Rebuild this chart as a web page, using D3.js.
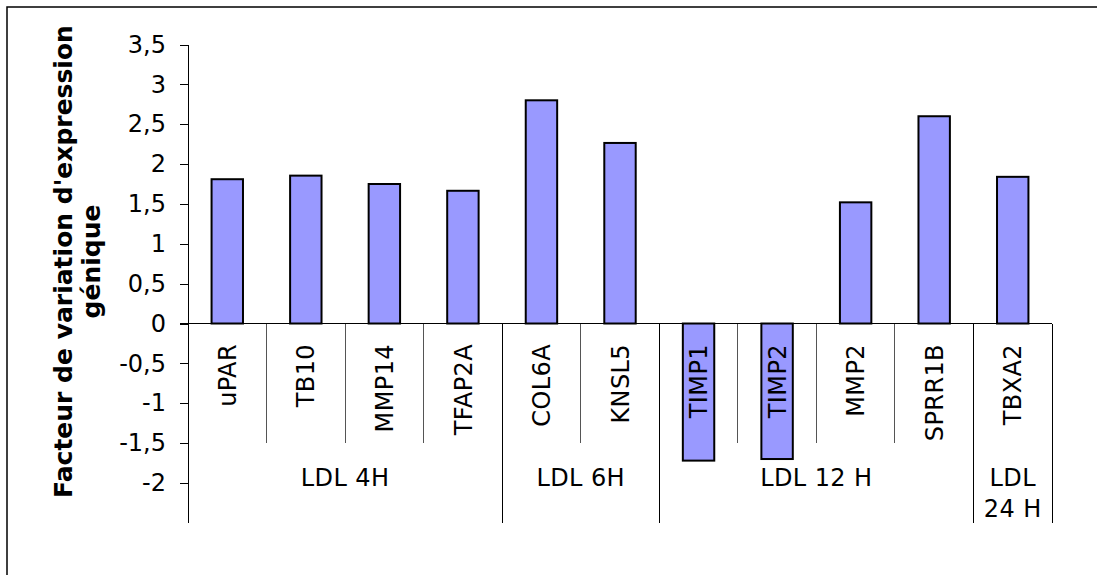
<!DOCTYPE html>
<html>
<head>
<meta charset="utf-8">
<script src="https://cdn.jsdelivr.net/npm/d3@7"></script>
<style>
  body { margin: 0; background: #fff; }
  text { font-family: "DejaVu Sans", Verdana, sans-serif; fill: #000; }
</style>
</head>
<body>
<svg id="chart" width="1097" height="575"></svg>
<script>
// genes and their fold change
var genes = ["uPAR", "TB10", "MMP14", "TFAP2A", "COL6A", "KNSL5", "TIMP1", "TIMP2", "MMP2", "SPRR1B", "TBXA2"];
var values = [1.81, 1.855, 1.75, 1.665, 2.8, 2.265, -1.72, -1.7, 1.52, 2.6, 1.84];
// time point groups (how many genes in each)
var groupNames = ["LDL 4H", "LDL 6H", "LDL 12 H", "LDL 24 H"];
var groupSizes = [4, 2, 4, 1];
var yTicks = [-2, -1.5, -1, -0.5, 0, 0.5, 1, 1.5, 2, 2.5, 3, 3.5];

var svg = d3.select("#chart");

// outer frame, right and bottom edges fall outside the picture
svg.append("rect")
  .attr("x", 7).attr("y", 7)
  .attr("width", 1300).attr("height", 800)
  .attr("fill", "none")
  .attr("stroke", "#000")
  .attr("stroke-width", 1.5);

var x = d3.scaleBand().domain(genes).range([188, 1052]);
var y = d3.scaleLinear().domain([-2.5, 3.5]).range([522.8, 44.5]);
var step = x.step();
var barW = step * 0.4;

// y axis
var yAxis = d3.axisLeft(y)
  .tickValues(yTicks)
  .tickSize(8)
  .tickSizeOuter(0)
  .tickPadding(14)
  .tickFormat(function (d) { return String(d).replace(".", ","); });

var gy = svg.append("g")
  .attr("transform", "translate(" + x.range()[0] + ",0)")
  .call(yAxis);
gy.selectAll("path, line").attr("stroke", "#000").attr("shape-rendering", "crispEdges");
gy.selectAll("text")
  .style("font-size", "24px")
  .style("font-family", "'DejaVu Sans', Verdana, sans-serif");

// bars
svg.selectAll("rect.bar")
  .data(genes)
  .enter().append("rect")
  .attr("class", "bar")
  .attr("x", function (d) { return x(d) + step / 2 - barW / 2; })
  .attr("y", function (d, i) { return y(Math.max(0, values[i])); })
  .attr("width", barW)
  .attr("height", function (d, i) { return Math.abs(y(values[i]) - y(0)); })
  .attr("fill", "#9999ff")
  .attr("stroke", "#000")
  .attr("stroke-width", 2);

// category axis line at zero
svg.append("line")
  .attr("x1", x.range()[0] - 8).attr("x2", x.range()[1])
  .attr("y1", y(0)).attr("y2", y(0))
  .attr("stroke", "#000")
  .attr("shape-rendering", "crispEdges");

// dividers: short between genes, long between groups
var groupEnds = [0];
groupSizes.forEach(function (n, i) { groupEnds.push(groupEnds[i] + n); });

d3.range(genes.length + 1).forEach(function (i) {
  var isGroup = groupEnds.indexOf(i) >= 0;
  svg.append("line")
    .attr("x1", x.range()[0] + i * step).attr("x2", x.range()[0] + i * step)
    .attr("y1", y(0))
    .attr("y2", isGroup ? 523 : 443)
    .attr("stroke", isGroup ? "#000" : "#555")
    .attr("shape-rendering", "crispEdges");
});

// gene labels, rotated
svg.selectAll("text.gene")
  .data(genes)
  .enter().append("text")
  .attr("class", "gene")
  .attr("transform", function (d) {
    return "translate(" + (x(d) + step / 2) + ",344) rotate(-90)";
  })
  .attr("text-anchor", "end")
  .attr("dy", "0.36em")
  .style("font-size", "24px")
  .style("letter-spacing", "0.4px")
  .text(function (d) { return d; });

// group labels, wrapped when too wide
groupNames.forEach(function (name, i) {
  var x0 = x.range()[0] + groupEnds[i] * step;
  var x1 = x.range()[0] + groupEnds[i + 1] * step;
  var t = svg.append("text")
    .attr("text-anchor", "middle")
    .style("font-size", "24px")
    .style("letter-spacing", "0.4px");
  var words = name.split(" ");
  var line = [];
  var lineNo = 0;
  var ts = t.append("tspan").attr("x", (x0 + x1) / 2).attr("y", 485.5);
  words.forEach(function (w) {
    line.push(w);
    ts.text(line.join(" "));
    if (ts.node().getComputedTextLength() > x1 - x0 - 6 && line.length > 1) {
      line.pop();
      ts.text(line.join(" "));
      line = [w];
      lineNo++;
      ts = t.append("tspan").attr("x", (x0 + x1) / 2).attr("y", 485.5 + lineNo * 31).text(w);
    }
  });
});

// y title
var title = svg.append("text")
  .attr("transform", "translate(72,261.5) rotate(-90)")
  .attr("text-anchor", "middle")
  .style("font-size", "25px")
  .style("font-weight", "bold");
title.append("tspan").attr("x", 0).attr("y", 0).text("Facteur de variation d'expression");
title.append("tspan").attr("x", 0).attr("y", 28).text("génique");
</script>
</body>
</html>
